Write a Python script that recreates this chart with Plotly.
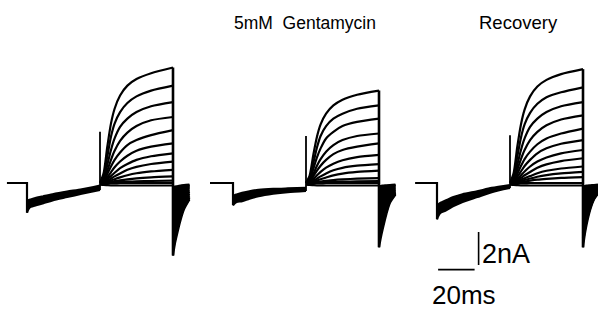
import plotly.graph_objects as go

# ---------------- data (nA vs ms) ----------------
panel_titles = ["", "5mM  Gentamycin", "Recovery"]

# holding start (ms, before pre-pulse step at t=0)
hold_start = [-11.0, -12.6, -12.0]

# pre-pulse (0-40 ms): band of inward currents, upper/lower edges
pre_t = [0, 0.7, 2, 5, 9, 14, 22, 30, 40]
pre_upper = [
    [-1.1, -1.05, -1.0, -0.9, -0.8, -0.68, -0.52, -0.38, -0.15],
    [-0.8, -0.75, -0.7, -0.6, -0.5, -0.42, -0.36, -0.33, -0.3],
    [-1.4, -1.3, -1.2, -1.05, -0.85, -0.68, -0.5, -0.3, -0.12],
]
pre_lower = [
    [-1.8, -1.6, -1.45, -1.35, -1.22, -1.05, -0.85, -0.65, -0.42],
    [-1.35, -1.25, -1.15, -1.1, -0.95, -0.8, -0.65, -0.55, -0.48],
    [-2.2, -2.0, -1.8, -1.65, -1.4, -1.15, -0.85, -0.55, -0.3],
]
# capacitive spike at test onset (nA)
spike_peak = [3.1, 2.85, 2.9]

# test pulse (40-80 ms), times relative to test onset
test_t = [0, 2, 4, 6, 8, 11, 15, 20, 28, 40]
test_p1 = [
    [0, 0.6, 2.2, 3.6, 4.5, 5.3, 5.9, 6.3, 6.65, 7.0],
    [0, 0.4, 1.6, 2.8, 3.6, 4.3, 4.85, 5.25, 5.6, 5.9],
    [0, 0.3, 1.1, 2.0, 2.7, 3.4, 3.9, 4.3, 4.65, 4.9],
    [0, 0.2, 0.75, 1.4, 1.95, 2.55, 3.05, 3.45, 3.8, 4.0],
    [0, 0.13, 0.55, 1.0, 1.4, 1.85, 2.3, 2.6, 2.9, 3.2],
    [0, 0.08, 0.35, 0.65, 0.95, 1.3, 1.65, 1.95, 2.2, 2.4],
    [0, 0.05, 0.22, 0.42, 0.62, 0.9, 1.15, 1.4, 1.62, 1.8],
    [0, 0.03, 0.14, 0.27, 0.4, 0.58, 0.8, 0.98, 1.15, 1.3],
    [0, 0.02, 0.08, 0.15, 0.23, 0.34, 0.47, 0.59, 0.7, 0.8],
    [0, 0.01, 0.04, 0.07, 0.11, 0.16, 0.22, 0.28, 0.34, 0.4],
    [0, 0.0, 0.02, 0.03, 0.04, 0.06, 0.08, 0.1, 0.12, 0.15],
    [0, 0, 0, 0, 0, 0, 0, 0, 0, 0],
    [-0.1, -0.12, -0.13, -0.14, -0.14, -0.15, -0.15, -0.15, -0.15, -0.15],
]
test_p2 = [
    [0, 0.45, 1.7, 2.8, 3.55, 4.2, 4.7, 5.05, 5.35, 5.6],
    [0, 0.3, 1.2, 2.15, 2.85, 3.45, 3.9, 4.2, 4.5, 4.7],
    [0, 0.22, 0.85, 1.55, 2.1, 2.7, 3.1, 3.45, 3.7, 3.9],
    [0, 0.14, 0.55, 1.05, 1.45, 1.9, 2.3, 2.6, 2.85, 3.0],
    [0, 0.1, 0.4, 0.75, 1.05, 1.4, 1.75, 2.0, 2.2, 2.4],
    [0, 0.06, 0.25, 0.46, 0.67, 0.93, 1.17, 1.38, 1.57, 1.7],
    [0, 0.03, 0.14, 0.27, 0.4, 0.58, 0.77, 0.92, 1.05, 1.15],
    [0, 0.02, 0.08, 0.15, 0.23, 0.33, 0.46, 0.57, 0.67, 0.75],
    [0, 0.01, 0.03, 0.06, 0.09, 0.13, 0.18, 0.22, 0.26, 0.3],
    [0, 0.0, 0.01, 0.02, 0.03, 0.05, 0.07, 0.08, 0.1, 0.12],
    [0, 0, 0, 0, 0, 0, 0, 0, 0, 0],
    [-0.1, -0.12, -0.13, -0.14, -0.14, -0.15, -0.15, -0.15, -0.15, -0.15],
]
test_p3 = [
    [0, 0.6, 2.2, 3.55, 4.45, 5.25, 5.85, 6.25, 6.6, 6.9],
    [0, 0.4, 1.6, 2.75, 3.55, 4.25, 4.8, 5.2, 5.5, 5.8],
    [0, 0.3, 1.1, 2.0, 2.7, 3.4, 3.9, 4.3, 4.65, 4.9],
    [0, 0.2, 0.8, 1.45, 2.0, 2.6, 3.1, 3.5, 3.85, 4.1],
    [0, 0.13, 0.57, 1.03, 1.45, 1.9, 2.35, 2.7, 3.0, 3.3],
    [0, 0.09, 0.38, 0.7, 1.03, 1.4, 1.8, 2.1, 2.38, 2.6],
    [0, 0.06, 0.25, 0.47, 0.7, 1.0, 1.3, 1.55, 1.8, 2.0],
    [0, 0.04, 0.16, 0.31, 0.47, 0.67, 0.92, 1.13, 1.33, 1.5],
    [0, 0.02, 0.1, 0.19, 0.29, 0.42, 0.59, 0.74, 0.88, 1.0],
    [0, 0.01, 0.06, 0.12, 0.18, 0.27, 0.38, 0.48, 0.58, 0.67],
    [0, 0.01, 0.03, 0.06, 0.09, 0.14, 0.2, 0.25, 0.31, 0.36],
    [0, 0, 0, 0, 0, 0, 0, 0, 0, 0],
    [-0.1, -0.12, -0.13, -0.14, -0.14, -0.15, -0.15, -0.15, -0.15, -0.15],
]

# tail currents after the test pulse, times relative to test offset
tail_t = [
    [0, 1, 2, 4, 6, 9],
    [0, 1, 2, 4, 6, 9],
    [0, 1, 2, 4, 6, 8.2],
]
tail_p1 = [
    [-4.4, -3.7, -3.2, -2.3, -1.6, -1.0],
    [-4.1, -3.5, -3.0, -2.1, -1.5, -0.9],
    [-3.8, -3.2, -2.7, -1.9, -1.35, -0.85],
    [-3.5, -2.9, -2.4, -1.7, -1.2, -0.75],
    [-3.1, -2.6, -2.1, -1.5, -1.05, -0.65],
    [-2.7, -2.2, -1.8, -1.25, -0.9, -0.55],
    [-2.3, -1.9, -1.55, -1.05, -0.75, -0.5],
    [-1.9, -1.5, -1.2, -0.85, -0.6, -0.4],
    [-1.4, -1.1, -0.9, -0.62, -0.45, -0.3],
    [-1.0, -0.8, -0.65, -0.45, -0.33, -0.22],
    [-0.7, -0.55, -0.45, -0.32, -0.24, -0.18],
    [-0.4, -0.32, -0.27, -0.2, -0.16, -0.12],
    [-0.25, -0.22, -0.2, -0.16, -0.13, -0.1],
]
tail_p2 = [
    [-3.9, -3.3, -2.8, -1.9, -1.2, -0.7],
    [-3.6, -3.0, -2.55, -1.75, -1.1, -0.65],
    [-3.3, -2.75, -2.3, -1.6, -1.0, -0.6],
    [-2.9, -2.4, -2.0, -1.4, -0.9, -0.55],
    [-2.5, -2.05, -1.7, -1.2, -0.8, -0.5],
    [-2.1, -1.7, -1.4, -1.0, -0.68, -0.42],
    [-1.6, -1.3, -1.05, -0.75, -0.52, -0.34],
    [-1.2, -0.95, -0.78, -0.55, -0.4, -0.27],
    [-0.8, -0.63, -0.52, -0.38, -0.28, -0.2],
    [-0.5, -0.4, -0.34, -0.26, -0.2, -0.15],
    [-0.3, -0.26, -0.23, -0.18, -0.15, -0.12],
    [-0.2, -0.18, -0.16, -0.14, -0.12, -0.1],
]
tail_p3 = [
    [-3.9, -3.1, -2.5, -1.6, -1.0, -0.65],
    [-3.6, -2.9, -2.3, -1.5, -0.95, -0.6],
    [-3.3, -2.65, -2.1, -1.4, -0.9, -0.55],
    [-3.0, -2.4, -1.9, -1.25, -0.8, -0.5],
    [-2.6, -2.1, -1.65, -1.1, -0.7, -0.45],
    [-2.2, -1.75, -1.4, -0.95, -0.62, -0.4],
    [-1.8, -1.45, -1.15, -0.8, -0.52, -0.34],
    [-1.4, -1.1, -0.9, -0.62, -0.42, -0.28],
    [-1.0, -0.8, -0.65, -0.46, -0.33, -0.22],
    [-0.7, -0.56, -0.46, -0.34, -0.25, -0.18],
    [-0.45, -0.37, -0.31, -0.23, -0.18, -0.14],
    [-0.3, -0.26, -0.23, -0.18, -0.15, -0.12],
    [-0.2, -0.18, -0.16, -0.14, -0.12, -0.1],
]

tests = [test_p1, test_p2, test_p3]
tails = [tail_p1, tail_p2, tail_p3]

TEST_ON = 40.0
TEST_OFF = 80.0

scale_ms = 20
scale_na = 2

# ---------------- layout geometry ----------------
W, H = 598, 309
PX_PER_MS = 1.825
PX_PER_NA = 16.5
BASE_PX = 183.0
T0_PX = [27, 233, 437]
X_LEFT_MS = -14.0
X_RIGHT_MS = 92.0

y_top = BASE_PX / PX_PER_NA
y_bot = -(H - BASE_PX) / PX_PER_NA

fig = go.Figure()
LW = 2.2
BLACK = "#000000"


def add(x, y, xa, width=LW, shape="linear", **kw):
    line = dict(color=BLACK, width=width, shape=shape)
    if shape == "spline":
        line["smoothing"] = 0.7
    fig.add_trace(go.Scatter(x=x, y=y, mode="lines", line=line, xaxis=xa,
                             yaxis="y", showlegend=False, hoverinfo="skip", **kw))


for p in range(3):
    xa = "x" if p == 0 else f"x{p+1}"
    # holding + step to pre-pulse
    add([hold_start[p], 0, 0], [0, 0, pre_lower[p][0]], xa)
    # pre-pulse band
    add(pre_t, pre_lower[p], xa, shape="spline")
    add(pre_t, pre_upper[p], xa, shape="spline", fill="tonexty", fillcolor=BLACK)
    # step to test + capacitive spike
    add([TEST_ON, TEST_ON], [pre_lower[p][-1], spike_peak[p]], xa, width=1.8)
    # test currents
    for tr in tests[p]:
        add([TEST_ON + t for t in test_t], tr, xa, shape="spline")
    # step at test offset
    top = max(tr[-1] for tr in tests[p])
    bot = min(tl[0] for tl in tails[p])
    add([TEST_OFF, TEST_OFF], [top, bot], xa, width=LW + 0.4)
    # tails: envelope filled, then individual traces
    tx = [TEST_OFF + t for t in tail_t[p]]
    add(tx, tails[p][-1], xa, shape="spline")
    add(tx, tails[p][0], xa, shape="spline", fill="tonexty", fillcolor=BLACK)
    for tl in tails[p][1:-1]:
        add(tx, tl, xa, shape="spline")

# scale bars (drawn in panel 3 coordinates)
sb_x0 = 0.6
sb_y = -5.25
add([sb_x0, sb_x0 + scale_ms], [sb_y, sb_y], "x3", width=1.6)
sb_vx = 22.8
sb_vy0 = -4.97
add([sb_vx, sb_vx], [sb_vy0, sb_vy0 + scale_na], "x3", width=1.6)

axis_common = dict(visible=False, showgrid=False, zeroline=False, fixedrange=True)
layout_axes = {}
for p in range(3):
    left_px = T0_PX[p] + X_LEFT_MS * PX_PER_MS
    right_px = min(W, T0_PX[p] + X_RIGHT_MS * PX_PER_MS)
    r_ms = (right_px - T0_PX[p]) / PX_PER_MS
    key = "xaxis" if p == 0 else f"xaxis{p+1}"
    layout_axes[key] = dict(axis_common, domain=[left_px / W, right_px / W],
                            range=[X_LEFT_MS, r_ms], anchor="y")

FONT = "Liberation Sans, Arial, Helvetica, sans-serif"
annotations = [
    dict(text=panel_titles[1], x=(305 - T0_PX[1]) / PX_PER_MS, y=(BASE_PX - 23) / PX_PER_NA,
         xref="x2", yref="y", showarrow=False, xanchor="center", yanchor="middle",
         font=dict(family=FONT, size=17.5, color=BLACK)),
    dict(text=panel_titles[2], x=(518 - T0_PX[2]) / PX_PER_MS, y=(BASE_PX - 22) / PX_PER_NA,
         xref="x3", yref="y", showarrow=False, xanchor="center", yanchor="middle",
         font=dict(family=FONT, size=18.5, color=BLACK)),
    dict(text=f"{scale_na}nA", x=(480 - T0_PX[2]) / PX_PER_MS, y=(BASE_PX - 254) / PX_PER_NA,
         xref="x3", yref="y", showarrow=False, xanchor="left", yanchor="middle",
         font=dict(family=FONT, size=27, color=BLACK)),
    dict(text=f"{scale_ms}ms", x=(430 - T0_PX[2]) / PX_PER_MS, y=(BASE_PX - 295) / PX_PER_NA,
         xref="x3", yref="y", showarrow=False, xanchor="left", yanchor="middle",
         font=dict(family=FONT, size=26, color=BLACK)),
]

fig.update_layout(
    width=W, height=H,
    margin=dict(l=0, r=0, t=0, b=0),
    paper_bgcolor="white", plot_bgcolor="white",
    yaxis=dict(axis_common, range=[y_bot, y_top], domain=[0, 1]),
    annotations=annotations,
    showlegend=False,
    **layout_axes,
)

fig.write_html("out.html", config={"displayModeBar": False},
               post_script="document.body.style.margin='0';document.body.style.overflow='hidden';")
